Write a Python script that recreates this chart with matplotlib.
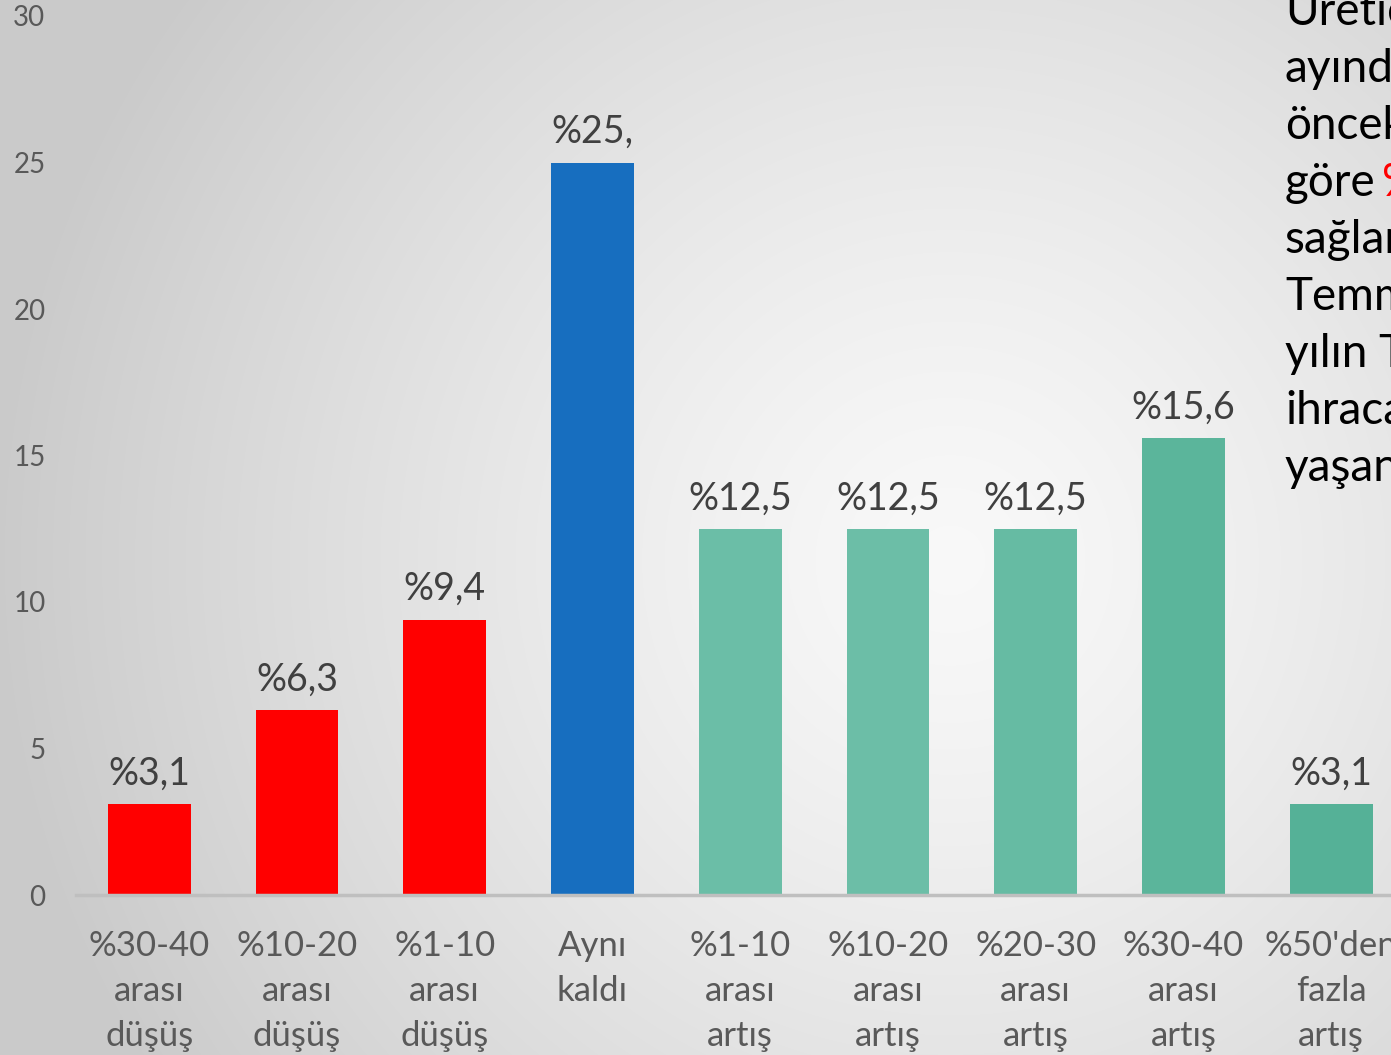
import numpy as np
import matplotlib
matplotlib.use("Agg")
import matplotlib.pyplot as plt

categories = ["%30-40\narası\ndüşüş", "%10-20\narası\ndüşüş", "%1-10\narası\ndüşüş",
              "Aynı\nkaldı", "%1-10\narası\nartış", "%10-20\narası\nartış",
              "%20-30\narası\nartış", "%30-40\narası\nartış", "%50'den\nfazla\nartış"]
values = [3.1, 6.3, 9.4, 25.0, 12.5, 12.5, 12.5, 15.6, 3.1]
value_labels = ["%3,1", "%6,3", "%9,4", "%25,", "%12,5", "%12,5", "%12,5", "%15,6", "%3,1"]
colors = ["#ff0000", "#ff0000", "#ff0000", "#176ebf",
          "#6bbea7", "#6cbea7", "#66bba3", "#5bb59b", "#55b197"]
side_lines = ["Üreticilerin", "ayında", "önceki", "göre", "sağlarken", "Temmuz",
              "yılın Temmuz", "ihracatında", "yaşanmıştır"]

plt.rcParams["font.family"] = ["Lato", "DejaVu Sans"]

W, H = 1391, 1055
fig = plt.figure(figsize=(W / 100, H / 100), dpi=100)

# radial gradient background
bg = fig.add_axes([0, 0, 1, 1], zorder=-10)
yy, xx = np.mgrid[0:H, 0:W]
d = np.sqrt((xx - 950) ** 2 + (yy - 560) ** 2) / 950
d = np.clip(d, 0, 1)
shade = 0.975 - 0.18 * d ** 1.3
bg.imshow(np.dstack([shade] * 3), extent=[0, 1, 0, 1], aspect="auto", origin="upper")
bg.axis("off")

ax = fig.add_axes([76 / W, 160 / H, 1 - 76 / W, 879 / H])
ax.patch.set_alpha(0)
x = np.arange(len(values))
ax.bar(x, values, width=0.56, color=colors, zorder=2)
for xi, v, lab in zip(x, values, value_labels):
    ax.annotate(lab, (xi, v), xytext=(0, 9), textcoords="offset points",
                ha="center", va="bottom", fontsize=27, color="#404040")

ax.set_xlim(-0.495, 8.405)
ax.set_ylim(0, 30)
ax.set_yticks(range(0, 31, 5))
ax.tick_params(axis="y", length=0, pad=22, labelsize=20, labelcolor="#595959")
ax.set_xticks(x)
ax.set_xticklabels(categories, fontsize=25, color="#595959", linespacing=1.5)
ax.tick_params(axis="x", length=0, pad=25)
for s in ["top", "right", "left"]:
    ax.spines[s].set_visible(False)
ax.spines["bottom"].set_color("#bfbfbf")
ax.spines["bottom"].set_linewidth(2.5)

# side text, cut at the figure edge like in the source slide
for i, line in enumerate(side_lines):
    ypix = 12 + i * 57
    fig.text(1285 / W, 1 - ypix / H, line, fontsize=33, color="#000000",
             ha="left", va="center")
    if line == "göre":
        fig.text(1382 / W, 1 - ypix / H, "%", fontsize=33, color="#ff0000",
                 ha="left", va="center")

fig.savefig("out.png", dpi=100)
